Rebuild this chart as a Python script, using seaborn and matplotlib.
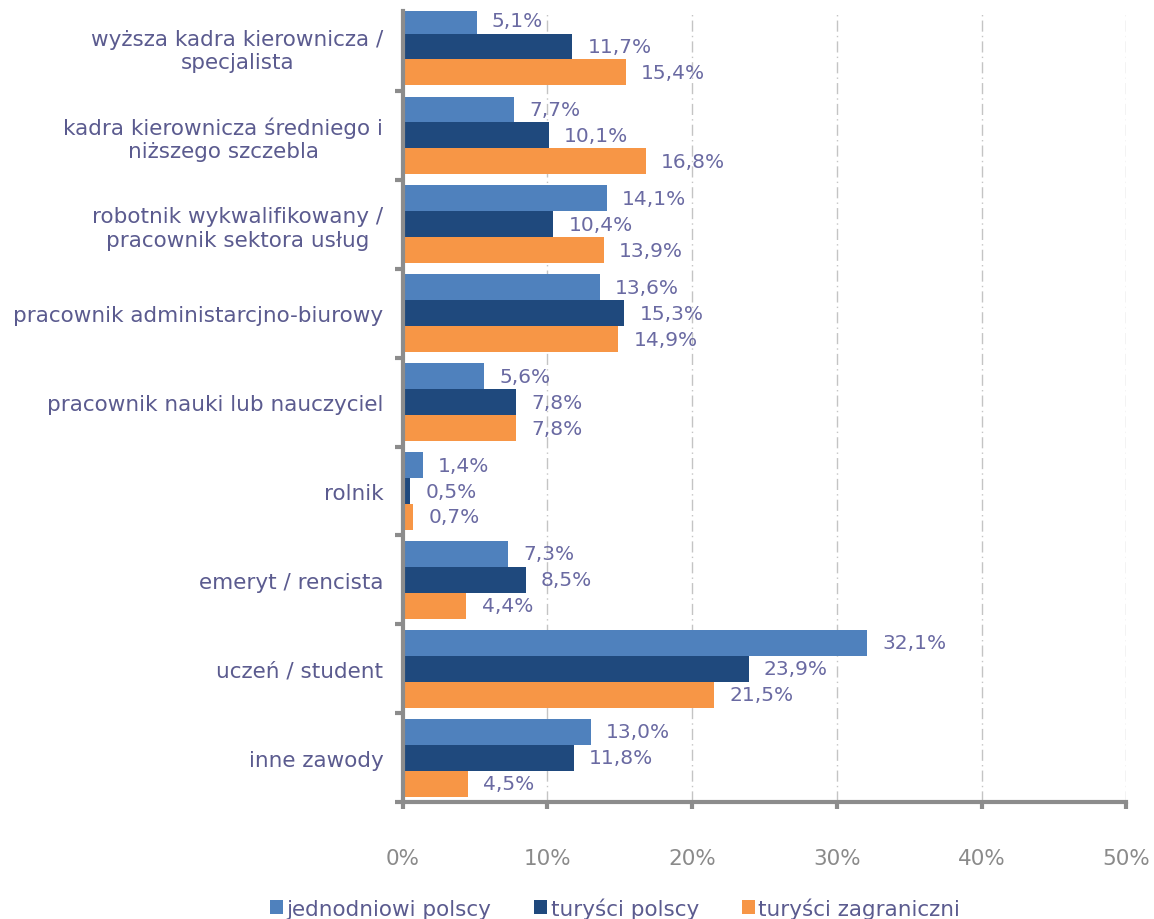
import matplotlib
matplotlib.use("Agg")
import matplotlib.pyplot as plt
from matplotlib.patches import Patch
import seaborn as sns
import pandas as pd
import numpy as np

categories = [
    "wyższa kadra kierownicza /\nspecjalista",
    "kadra kierownicza średniego i\nniższego szczebla",
    "robotnik wykwalifikowany /\npracownik sektora usług",
    "pracownik administarcjno-biurowy",
    "pracownik nauki lub nauczyciel",
    "rolnik",
    "emeryt / rencista",
    "uczeń / student",
    "inne zawody",
]
series_names = ["jednodniowi polscy", "turyści polscy", "turyści zagraniczni"]
jednodniowi = [5.1, 7.7, 14.1, 13.6, 5.6, 1.4, 7.3, 32.1, 13.0]
turysci_polscy = [11.7, 10.1, 10.4, 15.3, 7.8, 0.5, 8.5, 23.9, 11.8]
turysci_zagr = [15.4, 16.8, 13.9, 14.9, 7.8, 0.7, 4.4, 21.5, 4.5]
x_ticks = [0, 10, 20, 30, 40, 50]
x_tick_labels = ["0%", "10%", "20%", "30%", "40%", "50%"]
colors = ["#4F81BD", "#1F497D", "#F79646"]

rows = []
for name, vals in zip(series_names, [jednodniowi, turysci_polscy, turysci_zagr]):
    for c, v in zip(categories, vals):
        rows.append({"kategoria": c, "seria": name, "wartosc": v})
df = pd.DataFrame(rows)

sns.set_theme(style="white")
plt.rcParams["font.family"] = ["DejaVu Sans"]

fig = plt.figure(figsize=(11.54, 9.2), dpi=100)
ax = fig.add_axes([0.349, 0.127, 0.627, 0.86])

sns.barplot(data=df, y="kategoria", x="wartosc", hue="seria", order=categories,
            hue_order=series_names, palette=colors, orient="h", width=0.875,
            gap=0, ax=ax, legend=False, saturation=1, errorbar=None, linewidth=0)

label_color = "#6a6aa2"
for cont in ax.containers:
    ax.bar_label(cont, labels=[f"{v:.1f}%".replace(".", ",") for v in cont.datavalues],
                 padding=11, fontsize=14.5, color=label_color)

ax.set_xlim(0, 50)
ax.set_ylim(8.47, -0.4)
ax.set_xticks(x_ticks)
ax.set_xticklabels(x_tick_labels, fontsize=15.5, color="#8a8a8a")
ax.set_xlabel("")
ax.set_ylabel("")
ax.tick_params(axis="x", direction="out", length=5, width=3, color="#8c8c8c", pad=28, bottom=True)
ax.tick_params(axis="y", which="major", length=0, pad=14, labelsize=15.5, labelcolor="#5b5b8f")
ax.set_yticks(np.arange(len(categories)) + 0.5, minor=True)
ax.tick_params(axis="y", which="minor", length=6, width=3, color="#8c8c8c", left=True)
for lbl in ax.get_yticklabels():
    lbl.set_multialignment("center")

ax.grid(axis="x", color="#c4c4c4", linestyle=(0, (8, 3, 1, 3)), linewidth=1)
ax.grid(axis="y", visible=False)
ax.set_axisbelow(True)
for s in ["top", "right"]:
    ax.spines[s].set_visible(False)
for s in ["left", "bottom"]:
    ax.spines[s].set_color("#8c8c8c")
    ax.spines[s].set_linewidth(3)

handles = [Patch(facecolor=c, edgecolor="none") for c in colors]
fig.legend(handles, series_names, loc="center", bbox_to_anchor=(0.533, 0.012), ncol=3,
           frameon=False, fontsize=15.5, labelcolor="#5b5b8f", handlelength=0.6,
           handleheight=0.6, handletextpad=0.15, columnspacing=2.0)

fig.savefig("out.png", dpi=100)
